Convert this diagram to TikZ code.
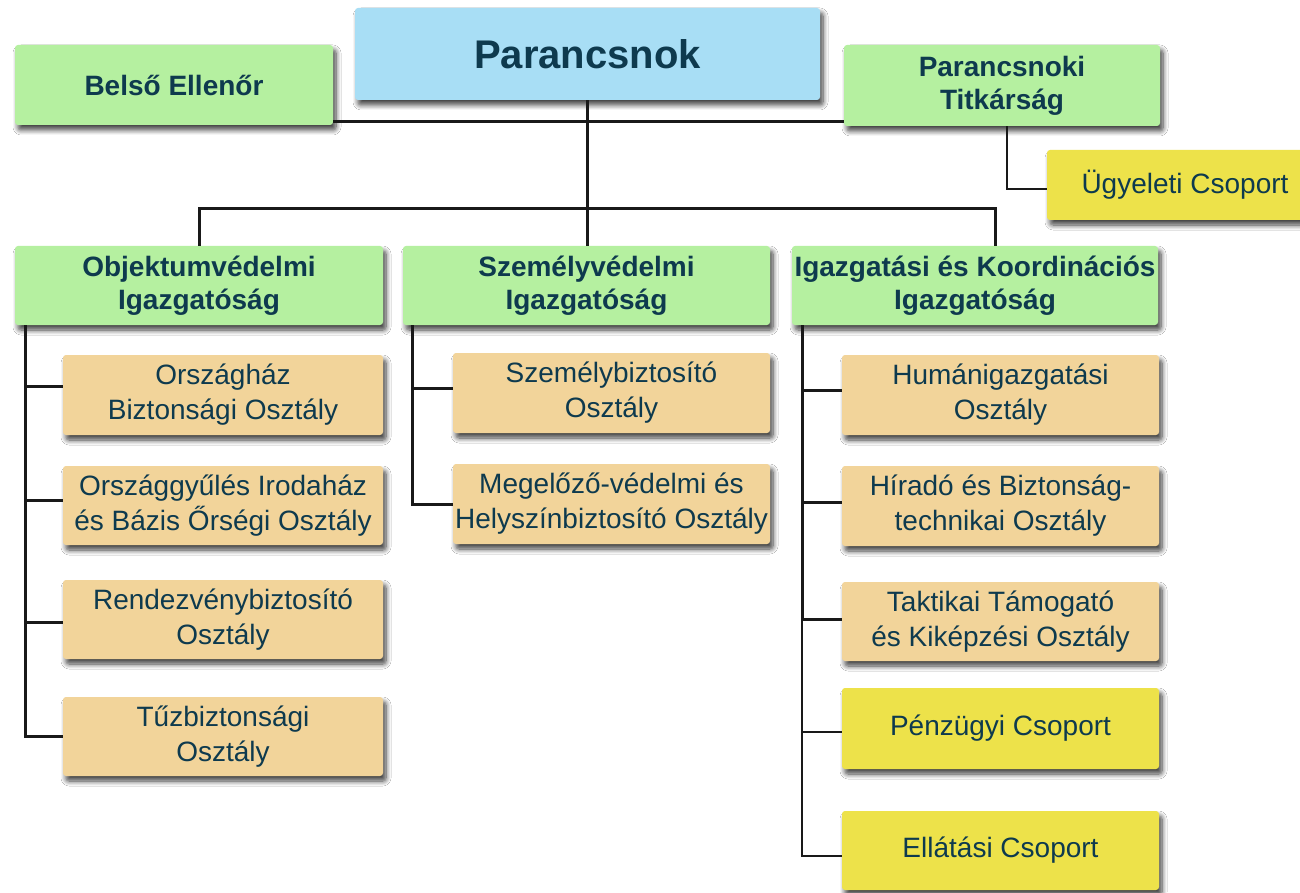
\documentclass[tikz,border=0pt]{standalone}
\usepackage{fontspec}
\setmainfont{Liberation Sans}
\usetikzlibrary{shadows.blur}
\definecolor{grn}{RGB}{181,240,160}
\definecolor{blu}{RGB}{168,222,245}
\definecolor{org}{RGB}{242,212,154}
\definecolor{ylw}{RGB}{237,226,74}
\definecolor{txt}{RGB}{14,58,78}
\begin{document}
\begin{tikzpicture}[x=1pt,y=-1pt,
  orgbox/.style={rectangle, rounded corners=3pt, inner sep=0pt, align=center, text=txt,
    blur shadow={shadow xshift=3pt,shadow yshift=-5pt,shadow blur radius=5pt,shadow opacity=75,shadow blur steps=8}},
  gbox/.style={orgbox, fill=grn, font=\bfseries\fontsize{28}{33}\selectfont},
  cbox/.style={orgbox, fill=blu, font=\bfseries\fontsize{40}{46}\selectfont},
  obox/.style={orgbox, fill=org, font=\fontsize{28}{35}\selectfont},
  ybox/.style={orgbox, fill=ylw, font=\fontsize{28}{35}\selectfont},
  thickln/.style={line width=3pt, draw=black!90},
  thinln/.style={line width=2pt, draw=black!90}]
\fill[white] (0,0) rectangle (1300,893);
\useasboundingbox (0,0) rectangle (1300,893);

% top level
\node[cbox, minimum width=465pt, minimum height=92pt] (cmd) at (587.5,54) {Parancsnok};
\node[gbox, minimum width=318pt, minimum height=80pt] (belso) at (174,85) {Belső Ellenőr};
\node[gbox, minimum width=316pt, minimum height=81pt] (titk) at (1002,85.5) {Parancsnoki\\Titkárság};
\node[ybox, minimum width=276pt, minimum height=70pt] (ugy) at (1185,185) {Ügyeleti Csoport};

% directorates
\node[gbox, minimum width=368pt, minimum height=79pt] (obj) at (199,285.5) {Objektumvédelmi\\Igazgatóság};
\node[gbox, minimum width=367pt, minimum height=79pt] (szem) at (586.5,285.5) {Személyvédelmi\\Igazgatóság};
\node[gbox, minimum width=366pt, minimum height=79pt] (igaz) at (975,285.5) {Igazgatási és Koordinációs\\Igazgatóság};

% left column
\node[obox, minimum width=320pt, minimum height=80pt] (o1) at (223,395) {Országház\\Biztonsági Osztály};
\node[obox, minimum width=320pt, minimum height=79pt] (o2) at (223,505.5) {Országgyűlés Irodaház\\és Bázis Őrségi Osztály};
\node[obox, minimum width=320pt, minimum height=79pt] (o3) at (223,619.5) {Rendezvénybiztosító\\Osztály};
\node[obox, minimum width=320pt, minimum height=79pt] (o4) at (223,736.5) {Tűzbiztonsági\\Osztály};

% middle column
\node[obox, minimum width=317pt, minimum height=80pt] (s1) at (611.5,393) {Személybiztosító\\Osztály};
\node[obox, minimum width=317pt, minimum height=80pt] (s2) at (611.5,504) {Megelőző-védelmi és\\Helyszínbiztosító Osztály};

% right column
\node[obox, minimum width=317pt, minimum height=80pt] (i1) at (1000.5,395) {Humánigazgatási\\Osztály};
\node[obox, minimum width=317pt, minimum height=80pt] (i2) at (1000.5,506) {Híradó és Biztonság-\\technikai Osztály};
\node[obox, minimum width=317pt, minimum height=79pt] (i3) at (1000.5,621.5) {Taktikai Támogató\\és Kiképzési Osztály};
\node[ybox, minimum width=317pt, minimum height=81pt] (i4) at (1000.5,728.5) {Pénzügyi Csoport};
\node[ybox, minimum width=317pt, minimum height=79pt] (i5) at (1000.5,850.5) {Ellátási Csoport};

% helper coordinates
\coordinate (lx) at (25,0);
\coordinate (mx) at (412,0);
\coordinate (rx) at (802,0);
\coordinate (bus) at (0,209);
\coordinate (topbus) at (0,122);
\coordinate (igtop) at ([xshift=20pt]igaz.north);

% top connectors
\draw[thickln] (belso.east |- topbus) -- (titk.west |- topbus);
\draw[thickln] (cmd.south) -- (cmd.south |- szem.north);
\draw[thickln] (obj.north) -- (obj.north |- bus) -- (igtop |- bus) -- (igtop);
\draw[thinln] ([xshift=5pt]titk.south) |- ([yshift=-4pt]ugy.west);

% left column connectors
\draw[thickln] (lx |- obj.south) |- (o4.west);
\draw[thickln] ([yshift=9pt]o1.west) -- +(-38pt,0);
\draw[thickln] ([yshift=5.5pt]o2.west) -- +(-38pt,0);
\draw[thickln] ([yshift=-2.5pt]o3.west) -- +(-38pt,0);

% middle column connectors
\draw[thickln] (mx |- szem.south) |- (s2.west);
\draw[thickln] ([yshift=5pt]s1.west) -- +(-41pt,0);

% right column connectors
\draw[thickln] (rx |- igaz.south) |- ([yshift=2.5pt]i3.west);
\draw[thickln] ([yshift=5pt]i1.west) -- +(-40pt,0);
\draw[thickln] ([yshift=4pt]i2.west) -- +(-40pt,0);
\draw[thinln] ([yshift=2.5pt]i3.west) ++(-40pt,0) |- ([yshift=-5.5pt]i5.west);
\draw[thinln] ([yshift=-3.5pt]i4.west) -- +(-40pt,0);
\end{tikzpicture}
\end{document}
